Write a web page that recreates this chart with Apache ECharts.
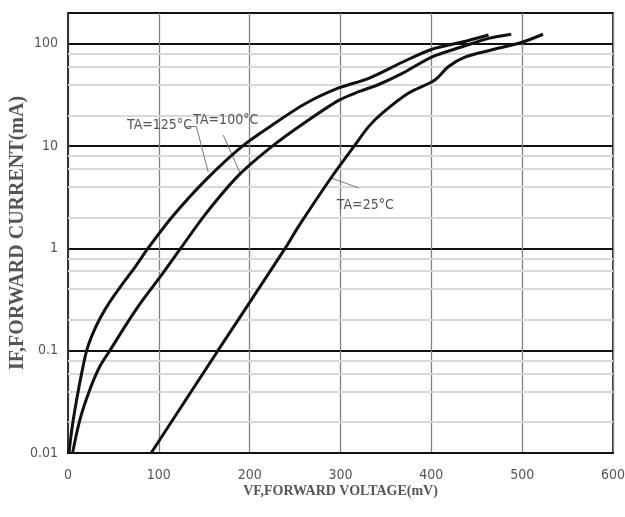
<!DOCTYPE html>
<html>
<head>
<meta charset="utf-8">
<script src="https://cdn.jsdelivr.net/npm/echarts@6/dist/echarts.min.js"></script>
<style>
html,body{margin:0;padding:0;background:#fff;}
#chart{width:625px;height:517px;}
</style>
</head>
<body>
<div id="chart"></div>
<script>
// X ticks (mV)
var xTicks = [0, 100, 200, 300, 400, 500, 600];
// Y decade ticks (mA)
var yTicks = [0.01, 0.1, 1, 10, 100];
// Minor horizontal grid values
var yMinor = [0.02, 0.04, 0.06, 0.08, 0.2, 0.4, 0.6, 0.8, 2, 4, 6, 8, 20, 40, 60, 80];

// TA=125°C
var v125 = [1, 5, 10, 15, 20.5, 26, 35, 46, 60, 75, 88, 115, 152, 192, 225, 262, 298, 331, 368, 400, 434, 463];
var i125 = [0.01, 0.019, 0.035, 0.06, 0.1, 0.138, 0.205, 0.3, 0.45, 0.68, 1, 2.05, 4.7, 10, 16.1, 26.2, 37, 46, 66, 88, 104, 122];
// TA=100°C
var v100 = [5, 13, 24, 35, 46, 64, 82, 101, 124, 152, 188, 225, 262, 298, 320, 342, 368, 401, 434, 463, 488];
var i100 = [0.01, 0.021, 0.0415, 0.07, 0.1, 0.18, 0.31, 0.52, 1, 2.2, 5.2, 10, 17.3, 28, 34, 40, 51.4, 74.6, 93.5, 113, 124];
// TA=25°C
var v25 = [91.5, 165, 239, 254, 291, 315, 331, 346, 375, 404, 419, 437, 466, 499, 523];
var i25 = [0.01, 0.1, 1, 1.65, 5.1, 10, 15.5, 21, 33, 44.3, 60, 74, 87, 103, 124];

// Annotation labels [text, v, i]
var labels = [["TA=125°C", 65, 16.1], ["TA=100°C", 138, 17.7], ["TA=25°C", 296, 2.66]];
// Leader lines (data coords)
var leaders = [
  [[130.5, 15.7], [141.2, 15.7]],
  [[141.2, 15.7], [154.4, 5.58]],
  [[170.9, 12.8], [189.5, 5.46]],
  [[289, 4.9], [320, 3.9]]
];

function pairs(xs, ys) { return xs.map(function (x, k) { return [x, ys[k]]; }); }

var tickFont = '"Liberation Sans Narrow","DejaVu Sans Condensed","Liberation Sans",sans-serif';
var nameFont = '"Liberation Serif","DejaVu Serif",serif';

function curve(name, data) {
  return {
    name: name, type: 'line', data: data, smooth: 0.3, symbol: 'none', z: 5,
    lineStyle: { color: '#111', width: 3 }
  };
}

var chart = echarts.init(document.getElementById('chart'), null, { renderer: 'canvas' });
chart.setOption({
  animation: false,
  backgroundColor: '#fff',
  grid: {
    left: 68, right: 12, top: 13, bottom: 64, containLabel: false, outerBoundsMode: 'none',
    show: true, borderColor: '#333', borderWidth: 2
  },
  xAxis: {
    type: 'value', min: xTicks[0], max: xTicks[xTicks.length - 1], interval: 100,
    name: 'VF,FORWARD VOLTAGE(mV)', nameLocation: 'middle', nameGap: 31, nameMoveOverlap: false,
    nameTextStyle: { fontFamily: nameFont, fontWeight: 'bold', fontSize: 14, color: '#555' },
    axisLine: { lineStyle: { color: '#111', width: 2 } },
    axisTick: { show: false },
    axisLabel: { margin: 15, fontFamily: tickFont, fontSize: 14, color: '#555' },
    splitLine: { show: true, lineStyle: { color: '#808080', width: 1.3 } }
  },
  yAxis: {
    type: 'log', logBase: 10, min: 0.01, max: 200,
    name: 'IF,FORWARD CURRENT(mA)', nameLocation: 'middle', nameGap: 40, nameMoveOverlap: false,
    nameTextStyle: { fontFamily: nameFont, fontWeight: 'bold', fontSize: 20, color: '#555' },
    axisLine: { lineStyle: { color: '#333', width: 2 } },
    axisTick: { show: false },
    axisLabel: {
      margin: 10, fontFamily: tickFont, fontSize: 14, color: '#555',
      formatter: function (v) {
        for (var k = 0; k < yTicks.length; k++) {
          if (Math.abs(v - yTicks[k]) / yTicks[k] < 1e-6) return String(yTicks[k]);
        }
        return '';
      }
    },
    splitLine: { show: true, lineStyle: { color: '#111', width: 2 } }
  },
  series: [
    {
      type: 'line', data: [], z: 1, silent: true,
      markLine: {
        silent: true, symbol: 'none', animation: false,
        label: { show: false },
        lineStyle: { color: '#d8d8d8', width: 2, type: 'solid' },
        data: yMinor.map(function (y) { return { yAxis: y }; })
      }
    },
    curve('TA=125°C', pairs(v125, i125)),
    curve('TA=100°C', pairs(v100, i100)),
    curve('TA=25°C', pairs(v25, i25)),
    {
      type: 'line', data: [], z: 6, silent: true,
      markLine: {
        silent: true, symbol: 'none', animation: false,
        label: { show: false },
        lineStyle: { color: '#777', width: 1, type: 'solid' },
        data: leaders.map(function (s) { return [{ coord: s[0] }, { coord: s[1] }]; })
      },
      markPoint: {
        silent: true, symbol: 'circle', symbolSize: 0, animation: false,
        label: {
          show: true, position: 'right', distance: 0, fontFamily: tickFont, fontSize: 14, color: '#555',
          formatter: function (p) { return p.name; }
        },
        data: labels.map(function (l) { return { name: l[0], coord: [l[1], l[2]] }; })
      }
    }
  ]
});
</script>
</body>
</html>
